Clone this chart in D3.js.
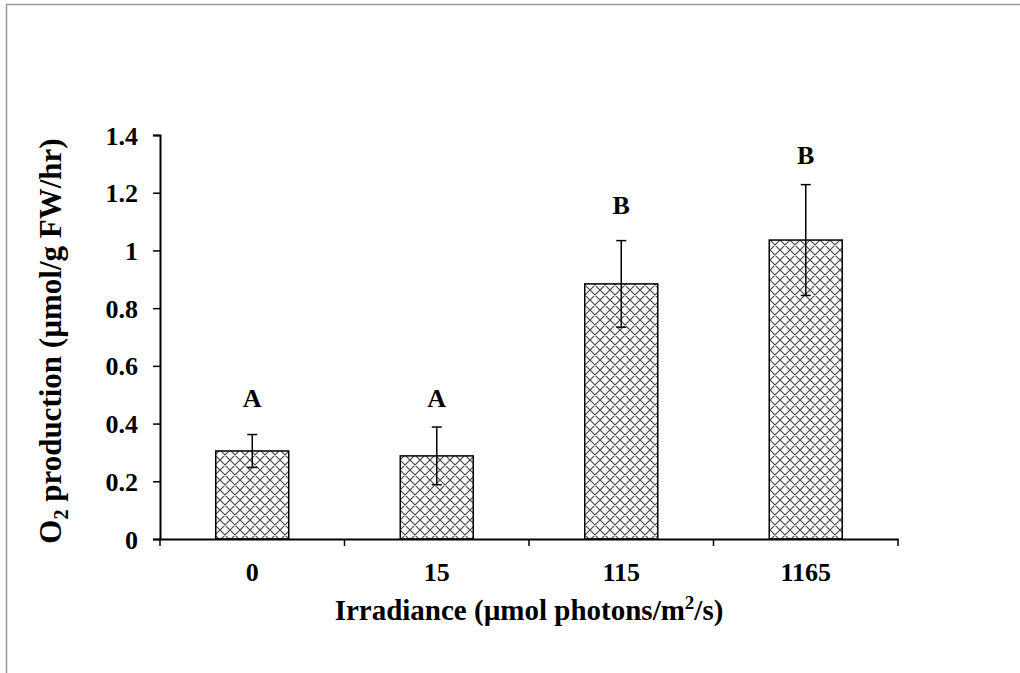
<!DOCTYPE html>
<html>
  <head>
    <meta charset="utf-8">
    <script src="https://d3js.org/d3.v7.min.js"></script>
    <style>
      body { margin: 0; background: #fff; }
      text { font-family: "Liberation Serif", "Times New Roman", serif; font-weight: bold; fill: #000; }
    </style>
  </head>
  <body>
  </body>
</html>

<script>
  // data
  var categories = ["0", "15", "115", "1165"]
  var means = [0.305, 0.288, 0.884, 1.036]
  var errors = [0.057, 0.100, 0.150, 0.192]
  var letters = ["A", "A", "B", "B"]
  var letterAt = [0.49, 0.49, 1.157, 1.33]   // height (in y units) where each letter sits
  var yTicks = [0, 0.2, 0.4, 0.6, 0.8, 1, 1.2, 1.4]

  var W = 1020
  var H = 673
  var plotL = 160, plotR = 898, plotT = 135, plotB = 539

  var svg = d3.select("body")
              .append("svg")
              .attr("width", W)
              .attr("height", H)

  // cross hatch fill
  var pat = svg.append("defs")
               .append("pattern")
               .attr("id", "hatch")
               .attr("patternUnits", "userSpaceOnUse")
               .attr("width", 10)
               .attr("height", 10)
  pat.append("rect").attr("width", 10).attr("height", 10).attr("fill", "#fff")
  pat.append("path")
     .attr("d", "M0,0L10,10M10,0L0,10M-1,9L1,11M9,-1L11,1M-1,1L1,-1M9,11L11,9")
     .attr("stroke", "#4a4a4a")
     .attr("stroke-width", 1.2)

  // outer frame (only top/left edges show)
  svg.append("rect")
     .attr("x", 6.5)
     .attr("y", 4.5)
     .attr("width", 1100)
     .attr("height", 1000)
     .attr("fill", "none")
     .attr("stroke", "#9a9a9a")
     .attr("stroke-width", 1.5)

  var x = d3.scaleBand()
            .domain(categories)
            .range([plotL, plotR])

  var y = d3.scaleLinear()
            .domain([0, 1.4])
            .range([plotB, plotT])

  var barW = 73
  function cx(i) { return x(categories[i]) + x.bandwidth() / 2; }

  // bars
  svg.selectAll(".bar")
     .data(means)
     .enter()
     .append("rect")
     .attr("class", "bar")
     .attr("x", function(d, i) { return cx(i) - barW / 2; })
     .attr("y", function(d) { return y(d); })
     .attr("width", barW)
     .attr("height", function(d) { return y(0) - y(d); })
     .attr("fill", "url(#hatch)")
     .attr("stroke", "#000")
     .attr("stroke-width", 1.5)

  // error bars
  var eb = svg.selectAll(".err")
              .data(means)
              .enter()
              .append("g")
              .attr("class", "err")
              .attr("stroke", "#000")
              .attr("stroke-width", 1.5)
  eb.append("line")
    .attr("x1", function(d, i) { return cx(i); })
    .attr("x2", function(d, i) { return cx(i); })
    .attr("y1", function(d, i) { return y(d - errors[i]); })
    .attr("y2", function(d, i) { return y(d + errors[i]); })
  eb.append("line")
    .attr("x1", function(d, i) { return cx(i) - 5; })
    .attr("x2", function(d, i) { return cx(i) + 5; })
    .attr("y1", function(d, i) { return y(d + errors[i]); })
    .attr("y2", function(d, i) { return y(d + errors[i]); })
  eb.append("line")
    .attr("x1", function(d, i) { return cx(i) - 5; })
    .attr("x2", function(d, i) { return cx(i) + 5; })
    .attr("y1", function(d, i) { return y(d - errors[i]); })
    .attr("y2", function(d, i) { return y(d - errors[i]); })

  // significance letters
  svg.selectAll(".letter")
     .data(letters)
     .enter()
     .append("text")
     .attr("class", "letter")
     .attr("x", function(d, i) { return cx(i); })
     .attr("y", function(d, i) { return y(letterAt[i]); })
     .attr("dy", "0.35em")
     .attr("text-anchor", "middle")
     .style("font-size", "26px")
     .text(function(d) { return d; })

  // y axis
  var yAxis = svg.append("g")
                 .attr("transform", "translate(" + plotL + ",0)")
                 .call(d3.axisLeft(y).tickValues(yTicks).tickSize(7).tickPadding(15)
                         .tickFormat(function(d) { return String(+d.toFixed(1)); }))
  yAxis.selectAll("text").style("font-size", "26px").attr("dy", "0.35em")

  // x axis
  var xAxis = svg.append("g")
                 .attr("transform", "translate(0," + plotB + ")")
                 .call(d3.axisBottom(x).tickSize(0).tickPadding(24))
  xAxis.selectAll("text").style("font-size", "26px")
  xAxis.selectAll(".bnd")
       .data(d3.range(categories.length + 1))
       .enter()
       .append("line")
       .attr("x1", function(i) { return plotL + i * x.step(); })
       .attr("x2", function(i) { return plotL + i * x.step(); })
       .attr("y1", 0)
       .attr("y2", 7)
       .attr("stroke", "#000")
       .attr("stroke-width", 1.5)

  svg.selectAll(".domain").attr("stroke", "#000").attr("stroke-width", 2)
  svg.selectAll(".tick line").attr("stroke", "#000").attr("stroke-width", 1.5)

  // axis titles
  var xt = svg.append("text")
              .attr("x", (plotL + plotR) / 2)
              .attr("y", 620)
              .attr("text-anchor", "middle")
              .style("font-size", "29px")
  xt.append("tspan").text("Irradiance (\u00b5mol photons/m")
  xt.append("tspan").attr("dy", -11).style("font-size", "19px").text("2")
  xt.append("tspan").attr("dy", 11).text("/s)")

  var yt = svg.append("text")
              .attr("transform", "translate(61," + ((plotT + plotB) / 2 + 4) + ") rotate(-90)")
              .attr("text-anchor", "middle")
              .style("font-size", "31px")
  yt.append("tspan").text("O")
  yt.append("tspan").attr("dy", 7).style("font-size", "20px").text("2")
  yt.append("tspan").attr("dy", -7).text(" production (\u00b5mol/g FW/hr)")
</script>
